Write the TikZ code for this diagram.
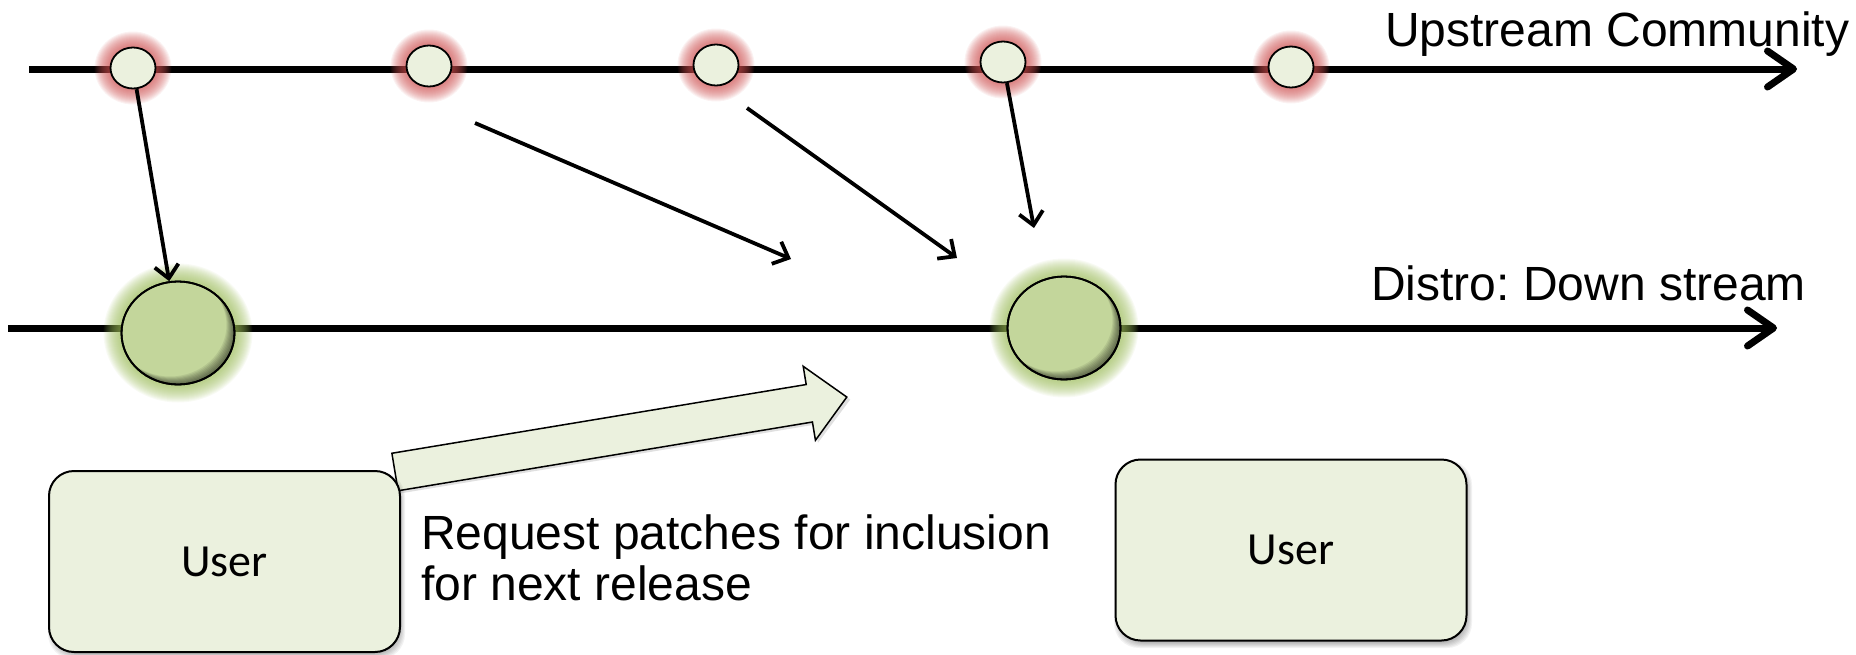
\documentclass[tikz,border=0pt]{standalone}
\usepackage{fontspec}
\setmainfont{Liberation Sans}
\newfontfamily\calfont{Carlito}
\frenchspacing
\usetikzlibrary{shapes.geometric, arrows.meta, calc}
\definecolor{paleg}{RGB}{235,241,222}
\definecolor{oliveg}{RGB}{195,214,155}
\definecolor{glowred}{RGB}{205,80,80}
\definecolor{glowgreen}{RGB}{155,187,89}
\begin{document}
\begin{tikzpicture}[x=1pt, y=-1pt,
  commit/.style={ellipse, draw=black, line width=1.8pt, fill=paleg, minimum width=45pt, minimum height=41pt, inner sep=0pt},
  release/.style={ellipse, draw=black, line width=1.8pt, fill=oliveg, minimum width=113pt, minimum height=103pt, inner sep=0pt},
  timeline/.style={line width=7pt, -{Straight Barb[length=26pt, width=36pt, round]}},
  flow/.style={line width=3.8pt, -{Straight Barb[length=13pt, width=24pt]}},
  userbox/.style={draw=black, line width=2pt, fill=paleg, rounded corners=25pt, minimum width=351pt, minimum height=181pt, inner sep=0pt, font=\calfont\fontsize{46}{50}\selectfont},
  lbl/.style={font=\fontsize{48}{50}\selectfont, inner sep=0pt, anchor=base west},
  blockarrow/.style={draw=black, line width=1.5pt, fill=paleg, line join=miter}
]
\useasboundingbox (0,0) rectangle (1856,654);

% coordinates
\coordinate (c1) at (133,68);
\coordinate (c2) at (429,66);
\coordinate (c3) at (716,65);
\coordinate (c4) at (1003,62);
\coordinate (c5) at (1291,67);
\coordinate (cA) at (178,333);
\coordinate (cB) at (1064,328);

% timelines
\coordinate (us) at (29,69);
\coordinate (ue) at (1797,69);
\coordinate (ds) at (8,328);
\coordinate (de) at (1777,328);
\draw[timeline] (us) -- (ue);
\draw[timeline] (ds) -- (de);

% red glows
\foreach \p in {c1,c2,c3,c4,c5} {
  \foreach \k [evaluate=\k as \rx using 22.5+\k, evaluate=\k as \ry using 20.5+\k] in {0,...,16} {
    \fill[glowred, opacity=0.075] (\p) ellipse [x radius=\rx, y radius=\ry];
  }
}
% green glows
\foreach \p in {cA,cB} {
  \foreach \k [evaluate=\k as \rx using 56.5+\k, evaluate=\k as \ry using 51.5+\k] in {0,...,18} {
    \fill[glowgreen, opacity=0.065] (\p) ellipse [x radius=\rx, y radius=\ry];
  }
}

% upstream commits
\node[commit] (u1) at (c1) {};
\node[commit] (u2) at (c2) {};
\node[commit] (u3) at (c3) {};
\node[commit] (u4) at (c4) {};
\node[commit] (u5) at (c5) {};

% downstream releases
\node[release] (dA) at (cA) {};
\node[release] (dB) at (cB) {};
\foreach \p in {cA,cB} {
  \begin{scope}
    \clip (\p) ellipse [x radius=56.5, y radius=51.5];
    \foreach \d in {1,...,8} {
      \fill[black, opacity=0.08, even odd rule] ($(\p)+(-90,-90)$) rectangle ($(\p)+(90,90)$)
        ($(\p)+(-\d,-\d)$) ellipse [x radius=56.5, y radius=51.5];
    }
  \end{scope}
  \draw[line width=1.8pt] (\p) ellipse [x radius=56.5, y radius=51.5];
}

% flow arrows
\coordinate (a2s) at (475,123);
\coordinate (a2e) at (791,259);
\coordinate (a3s) at (747,108);
\coordinate (a3e) at (957,258);
\coordinate (a4e) at (1034,228);
\draw[flow] (u1) -- (dA);
\draw[flow] (a2s) -- (a2e);
\draw[flow] (a3s) -- (a3e);
\draw[flow] (u4) -- (a4e);

% block arrow (request)
\begin{scope}[shift={(395,472)}, rotate=9.42]
  \fill[black, opacity=0.12] (2,-16) -- (422,-16) -- (422,-34.5) -- (461,3) -- (422,40.5) -- (422,22) -- (2,22) -- cycle;
  \draw[blockarrow] (0,-19) -- (420,-19) -- (420,-37.5) -- (458,0) -- (420,37.5) -- (420,19) -- (0,19) -- cycle;
\end{scope}

% box shadows
\foreach \k in {-3,...,3} {
  \fill[black, opacity=0.05, rounded corners=25pt] ({51+\k},{475+\k}) rectangle ({402-\k},{656-\k});
  \fill[black, opacity=0.05, rounded corners=25pt] ({1117+\k},{463+\k}) rectangle ({1469-\k},{645-\k});
}

% user boxes
\node[userbox] (b1) at (224.5,561.5) {User};
\node[userbox] (b2) at (1291,550) {User};

% labels
\node[lbl] (up) at (1385,46) {Upstream Community};
\node[lbl] (dn) at (1371,300) {Distro: Down stream};
\node[lbl] (rq1) at (421,549) {Request patches for inclusion};
\node[lbl] (rq2) at (421,600) {for next release};
\end{tikzpicture}
\end{document}
